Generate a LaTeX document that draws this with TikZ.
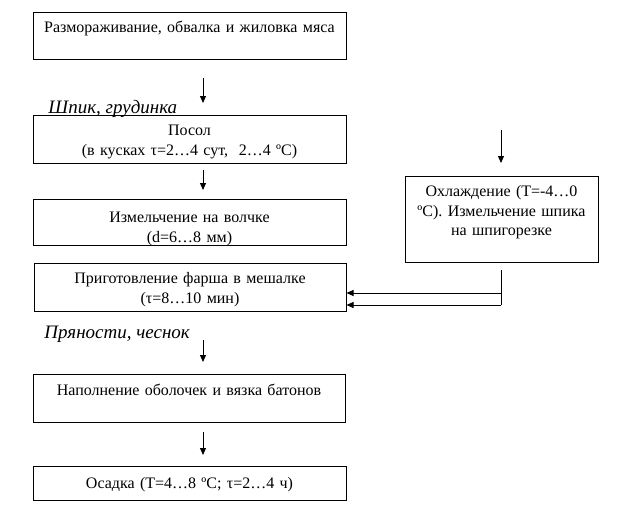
\documentclass[tikz,border=0pt]{standalone}
\usepackage{fontspec}
\setmainfont{Liberation Serif}
\usepackage{tikz}
\usetikzlibrary{arrows.meta}

\begin{document}
\begin{tikzpicture}[x=1pt,y=-1pt,line width=1pt,>={Triangle[length=7pt,width=6pt]}]
  \tikzstyle{every node}=[font=\fontsize{16}{19.5}\selectfont,text=black]
  \tikzstyle{stage}=[draw=black,anchor=north,align=center,inner xsep=4pt,inner ysep=0pt,text width=305pt]
  \tikzstyle{note}=[anchor=base west,inner sep=0pt,font=\fontsize{19}{22}\selectfont\itshape]

  \useasboundingbox (0,0) rectangle (630,515);

  % main line
  \node [stage,text height=20pt,text depth=27pt] (razm)  at (189.5,12)  {Размораживание, обвалка и жиловка мяса};
  \node [stage,text height=20pt,text depth=28pt] (posol) at (189.5,115) {Посол\\(в кусках τ=2…4 сут,~ 2…4 ºС)};
  \node [stage,text height=23pt,text depth=23pt] (volch) at (189.5,199) {Измельчение на волчке\\(d=6…8 мм)};
  \node [stage,text height=20pt,text depth=28pt,text width=304pt] (farsh) at (190,263) {Приготовление фарша в мешалке\\(τ=8…10 мин)};
  \node [stage,text height=21pt,text depth=27pt,text width=304pt] (napol) at (189,374) {Наполнение оболочек и вязка батонов};
  \node [stage,text height=22pt,text depth=12pt] (osad)  at (189.5,466) {Осадка (Т=4…8 ºС; τ=2…4 ч)};

  % side line
  \node [stage,text height=20pt,text depth=66pt,text width=185pt] (ohl) at (501.5,176) {Охлаждение (Т=-4…0\\ºС). Измельчение шпика\\на шпигорезке};

  \node [note] (shpik) at (48,113) {Шпик, грудинка};
  \node [note] (spice) at (44,338) {Пряности, чеснок};

  \coordinate (s1) at (203,78);  \coordinate (e1) at (203,103);
  \coordinate (s2) at (203,170); \coordinate (e2) at (203,190);
  \coordinate (s3) at (203,340); \coordinate (e3) at (203,362);
  \coordinate (s4) at (203,432); \coordinate (e4) at (203,455);
  \coordinate (s5) at (501,130); \coordinate (e5) at (501,163);
  \coordinate (f1) at (501,270); \coordinate (f2) at (501,293); \coordinate (f3) at (501,305);

  \draw [->] (s1) -- (e1);
  \draw [->] (s2) -- (e2);
  \draw [->] (s3) -- (e3);
  \draw [->] (s4) -- (e4);
  \draw [->] (s5) -- (e5);

  \draw (f1) -- (f3);
  \draw [->] (f2) -- (f2 -| farsh.east);
  \draw [->] (f3) -- (f3 -| farsh.east);
\end{tikzpicture}
\end{document}
